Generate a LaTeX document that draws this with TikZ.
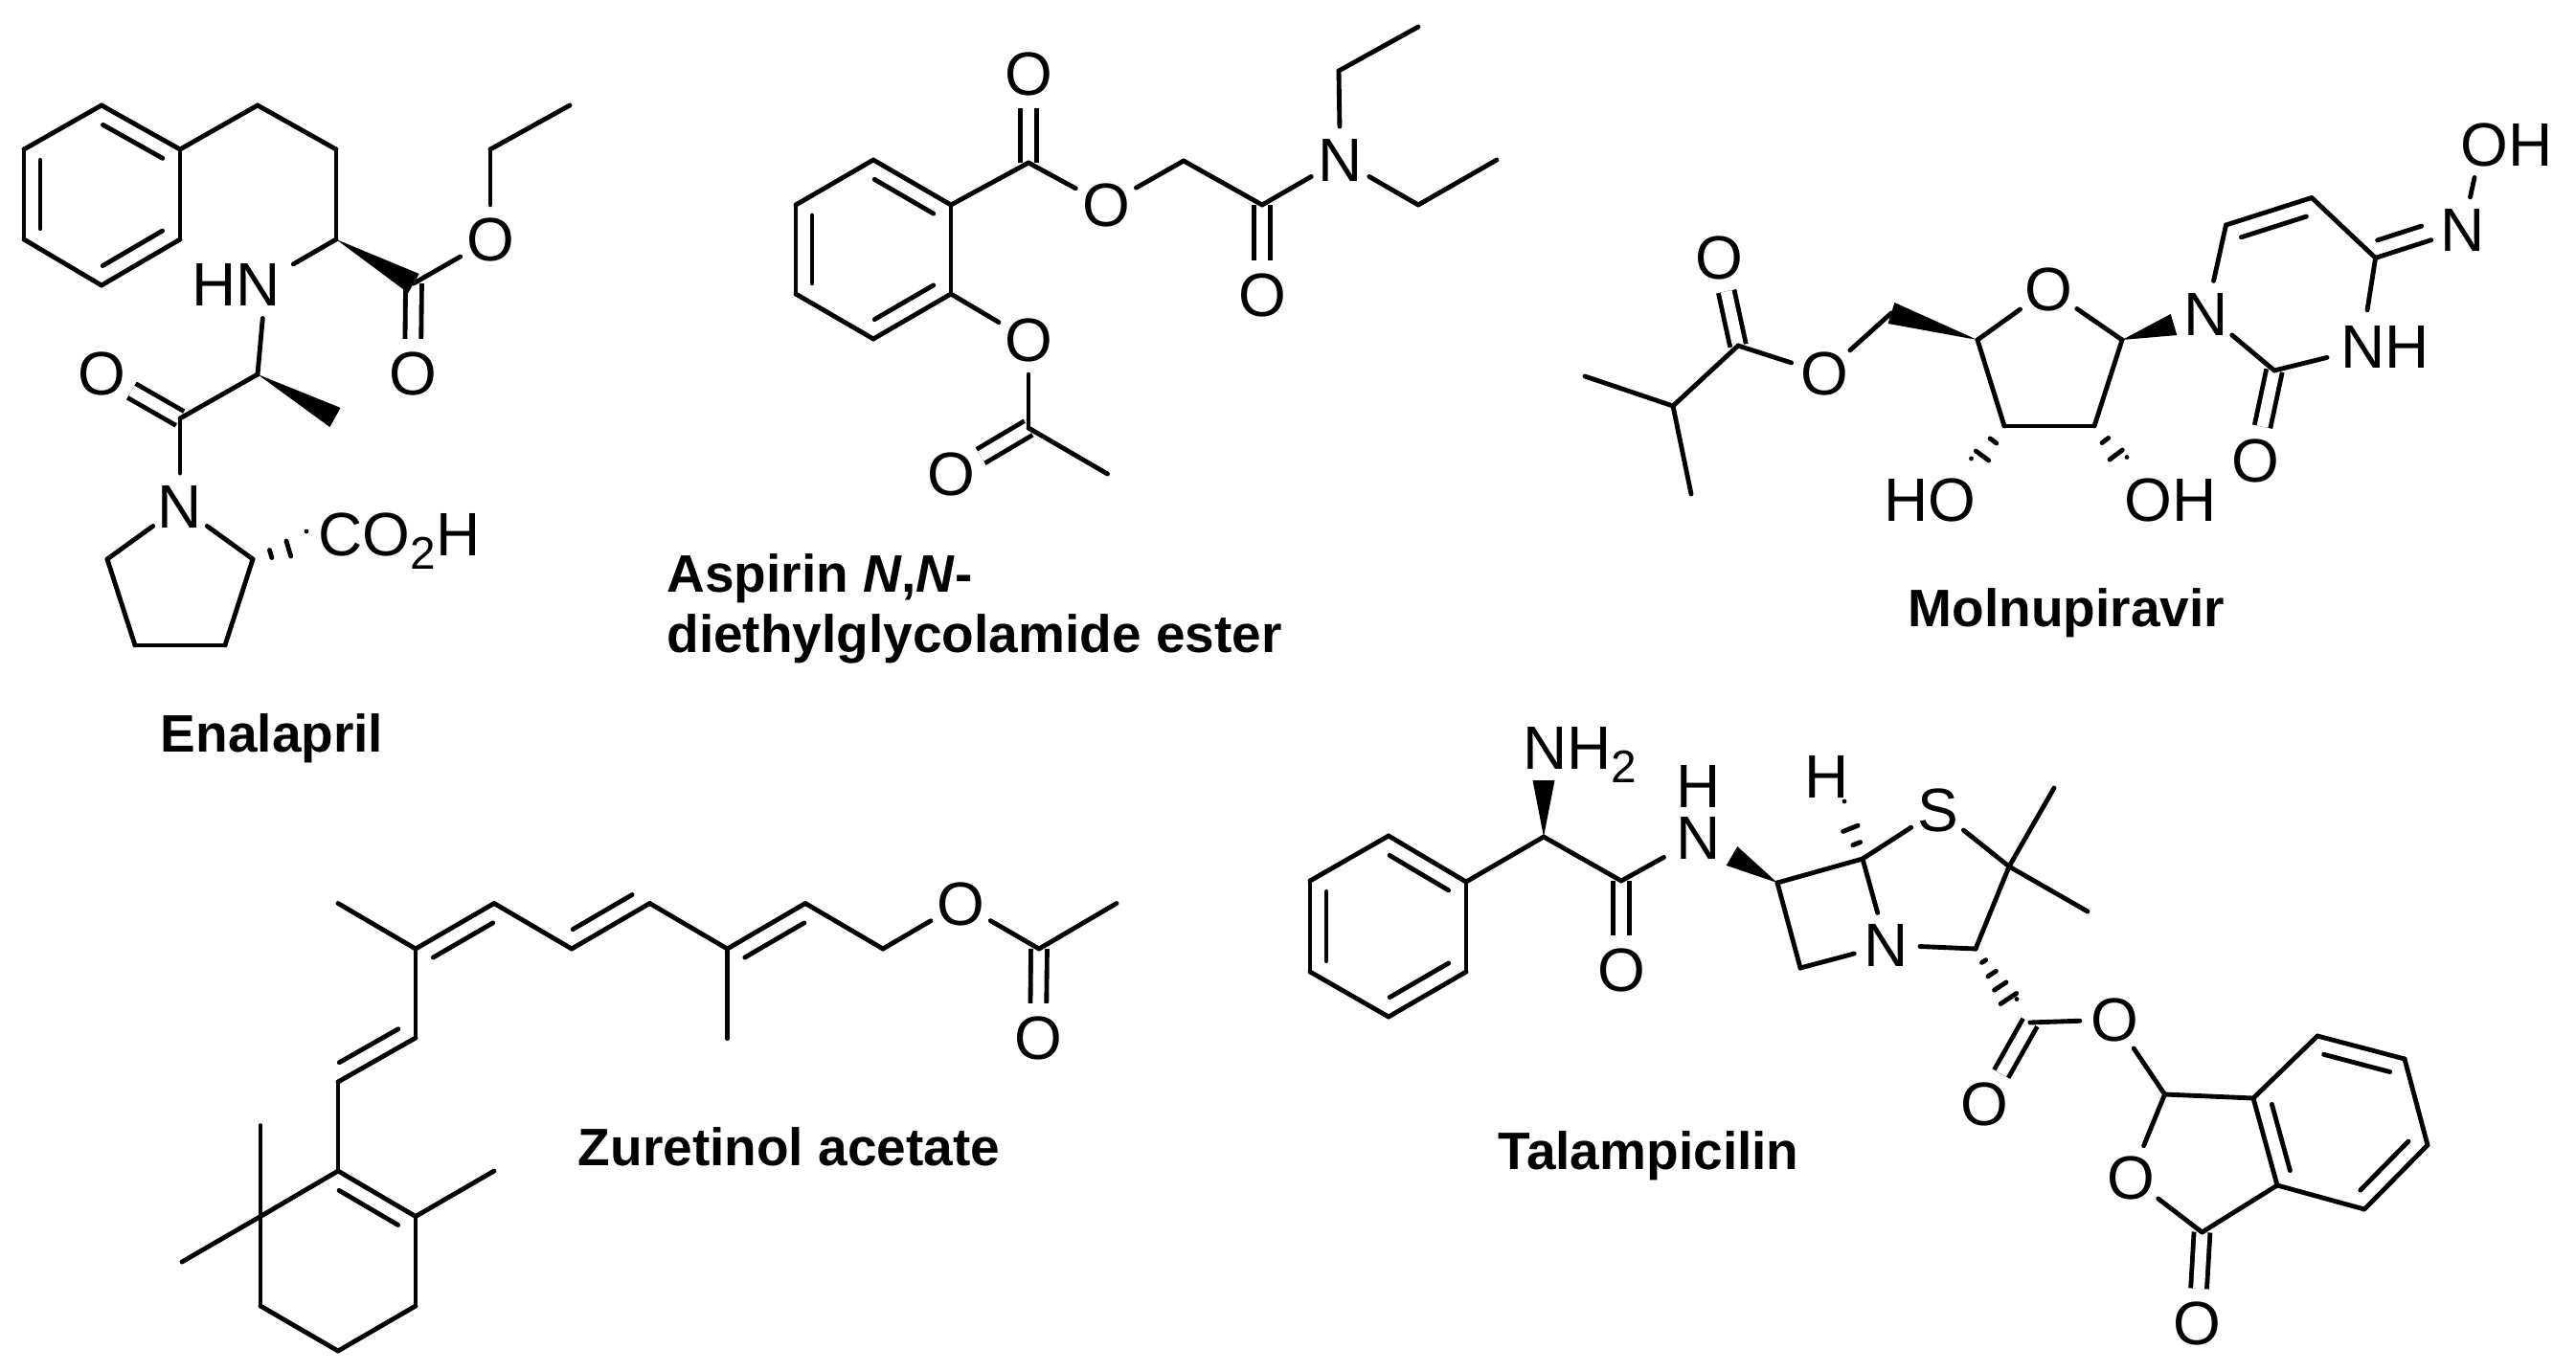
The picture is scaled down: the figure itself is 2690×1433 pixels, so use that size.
\documentclass[tikz,border=0pt]{standalone}
\usepackage{fontspec}
\setmainfont{Liberation Sans}
\usetikzlibrary{calc}

\newcommand{\atomfont}{\fontsize{18.2}{15.3}\selectfont}
\newcommand{\titlefont}{\fontsize{15.65}{17.9}\selectfont\bfseries}
\newcommand{\subnum}[1]{\raisebox{-4.1pt}{\fontsize{13.6}{14}\selectfont #1}}
% second line of a double bond, on the left of a->b
\newcommand{\ringbond}[2]{\draw ($(#1)!.12!(#2)!.17cm!90:(#2)$) -- ($(#2)!.12!(#1)!.17cm!-90:(#1)$);}
\newcommand{\wedgebond}[2]{\fill (#1) -- ($(#2)!.115cm!90:(#1)$) -- ($(#2)!.115cm!-90:(#1)$) -- cycle;}
\newcommand{\hashbond}[3]{\foreach \k in {1,...,#3}{
    \pgfmathsetmacro\hf{\k/#3}\pgfmathsetmacro\hw{\hf*.125}
    \draw ($(#1)!\hf!(#2)!\hw cm!90:(#2)$) -- ($(#1)!\hf!(#2)!\hw cm!-90:(#2)$);}}

\tikzset{
  atom/.style={circle,inner sep=0pt,font=\atomfont,text height=13pt,text depth=0pt},
  group/.style={inner sep=0pt,anchor=base west,font=\atomfont,text height=13pt,text depth=0pt},
  stack/.style={inner sep=0pt,anchor=base,font=\atomfont,align=center},
  title/.style={inner sep=0pt,anchor=base,font=\titlefont},
  dbl/.style={double,double distance=3.4pt,line cap=butt}
}

\begin{document}
\begin{tikzpicture}[x=.01cm,y=-.01cm,line width=1.38pt,line cap=round]
  \path[use as bounding box,fill=white] (0,0) rectangle (2690,1433);

  % Enalapril
  \coordinate (e1) at (106,110); \coordinate (e2) at (25,156); \coordinate (e3) at (25,250);
  \coordinate (e4) at (106,298); \coordinate (e5) at (188,250); \coordinate (e6) at (188,156);
  \coordinate (ea) at (269,110); \coordinate (eb) at (351,156); \coordinate (ec) at (351,250);
  \coordinate (ed) at (432,296); \coordinate (ef) at (512,156); \coordinate (eg) at (595,110);
  \coordinate (eh) at (269,391); \coordinate (ew) at (350,436); \coordinate (ei) at (188,437);
  \coordinate (ej) at (112,584); \coordinate (ek) at (141,674); \coordinate (el) at (235,674);
  \coordinate (em) at (264,584); \coordinate (ex) at (320,567.5);
  \node[atom] (eoa) at (512,250) {O};
  \node[atom] (eob) at (431,390) {O};
  \node[atom] (eoc) at (106,390) {O};
  \node[atom] (en) at (188,529) {N};
  \node[group] (ehn) at (198,319) {HN};
  \node[group] (eco) at (330,580) {CO\subnum{2}H};
  \node[title] (enalapril) at (284,785) {Enalapril};

  \path (ed) edge[dbl] (eob)
        (ei) edge[dbl] (eoc);
  \path (e1) edge (e2) (e2) edge (e3) (e3) edge (e4) (e4) edge (e5) (e5) edge (e6) (e6) edge (e1)
        (e6) edge (ea) (ea) edge (eb) (eb) edge (ec)
        (ec) edge ([shift={(.11cm,-.05cm)}]ehn.north east)
        ([shift={(-.21cm,-.11cm)}]ehn.south east) edge (eh)
        (eh) edge (ei) (ei) edge (en)
        (en) edge (ej) (ej) edge (ek) (ek) edge (el) (el) edge (em) (em) edge (en)
        (ed) edge (eoa) (eoa) edge (ef) (ef) edge (eg);
  \ringbond{e6}{e1} \ringbond{e2}{e3} \ringbond{e4}{e5}
  \wedgebond{ec}{ed} \wedgebond{eh}{ew}
  \hashbond{em}{ex}{3}

  % Aspirin ester
  \coordinate (a1) at (912,167); \coordinate (a2) at (831,214); \coordinate (a3) at (831,307);
  \coordinate (a4) at (912,354); \coordinate (a5) at (993,307); \coordinate (a6) at (993,214);
  \coordinate (ab) at (1074,170); \coordinate (ac) at (1236,168); \coordinate (ad) at (1318,214);
  \coordinate (ae) at (1398,74); \coordinate (af) at (1481,28); \coordinate (ag) at (1481,214);
  \coordinate (ah) at (1563,167); \coordinate (ai) at (1074,447); \coordinate (aj) at (1156.5,495);
  \node[atom] (aoa) at (1074,77) {O};
  \node[atom] (aob) at (1155,214) {O};
  \node[atom] (aoc) at (1318,308) {O};
  \node[atom] (aod) at (1074,355) {O};
  \node[atom] (aoe) at (993,495) {O};
  \node[atom] (an) at (1399.5,167) {N};
  \node[title,anchor=base west,align=left] (aspirin) at (694,681) {Aspirin \textit{N},\textit{N}-\\diethylglycolamide ester};

  \path (ab) edge[dbl] (aoa)
        (ad) edge[dbl] (aoc)
        (ai) edge[dbl] (aoe);
  \path (a1) edge (a2) (a2) edge (a3) (a3) edge (a4) (a4) edge (a5) (a5) edge (a6) (a6) edge (a1)
        (a6) edge (ab) (ab) edge (aob) (aob) edge (ac) (ac) edge (ad) (ad) edge (an)
        (an) edge (ae) (ae) edge (af) (an) edge (ag) (ag) edge (ah)
        (a5) edge (aod) (aod) edge (ai) (ai) edge (aj);
  \ringbond{a6}{a1} \ringbond{a2}{a3} \ringbond{a4}{a5}

  % Molnupiravir
  \coordinate (ma) at (1655,393); \coordinate (mb) at (1747,424); \coordinate (mc) at (1766,516);
  \coordinate (md) at (1815,361); \coordinate (me) at (1975,327); \coordinate (mf) at (2065,355);
  \coordinate (mh) at (2216,355); \coordinate (mi) at (2187,445); \coordinate (mj) at (2093,445);
  \coordinate (mk) at (2324.5,235); \coordinate (ml) at (2414,206.5); \coordinate (mm) at (2480.6,269.4);
  \coordinate (mn) at (2375,387); \coordinate (mw) at (2270,339); \coordinate (mx) at (2541,250);
  \coordinate (my) at (2058.5,491.5); \coordinate (mz) at (2221,490);
  \node[atom] (moa) at (1795,269) {O};
  \node[atom] (mob) at (1905,390) {O};
  \node[atom] (mog) at (2139,302) {O};
  \node[atom] (moc) at (2355,481) {O};
  \node[atom] (mna) at (2304,327.5) {N};
  \node[atom] (mnb) at (2572,240) {N};
  \node[group] (mnh) at (2442,384) {NH};
  \node[group] (moh) at (2567,173) {OH};
  \node[group] (mhoa) at (1965,544) {HO};
  \node[group] (mhob) at (2216,544) {OH};
  \node[title] (molnupiravir) at (2158,654) {Molnupiravir};

  \path (md) edge[dbl] (moa)
        (mn) edge[dbl] (moc);
  \path (ma) edge (mb) (mb) edge (mc) (mb) edge (md) (md) edge (mob) (mob) edge (me)
        (mf) edge (mog) (mog) edge (mh) (mh) edge (mi) (mi) edge (mj) (mj) edge (mf)
        (mna) edge (mk) (mk) edge (ml) (ml) edge (mm) (mm) edge (mnb)
        (mm) edge ([shift={(.30cm,.12cm)}]mnh.north west)
        ([shift={(-.12cm,.13cm)}]mnh.south west) edge (mn)
        (mn) edge (mna)
        (mnb) edge ([shift={(.17cm,-.10cm)}]moh.south west);
  \ringbond{ml}{mk} \ringbond{mm}{mx}
  \wedgebond{mf}{me} \wedgebond{mh}{mw}
  \hashbond{mj}{my}{3} \hashbond{mi}{mz}{3}

  % Zuretinol acetate
  \coordinate (z1) at (353,943.5); \coordinate (z2) at (434,991); \coordinate (z3) at (516,943.5);
  \coordinate (z4) at (597,991); \coordinate (z5) at (678.5,943.5); \coordinate (z6) at (759.5,991);
  \coordinate (z7) at (759.5,1084.6); \coordinate (z8) at (841,943.5); \coordinate (z9) at (922,991);
  \coordinate (z10) at (1085,991); \coordinate (z11) at (1166,943.5); \coordinate (z12) at (434,1084);
  \coordinate (z13) at (353,1130); \coordinate (z14) at (353,1223); \coordinate (z15) at (434,1270.5);
  \coordinate (z16) at (516,1223); \coordinate (z17) at (434,1364); \coordinate (z18) at (353,1411);
  \coordinate (z19) at (272,1364); \coordinate (z20) at (272,1270.5); \coordinate (z21) at (272,1175.6);
  \coordinate (z22) at (190,1318);
  \node[atom] (zoa) at (1003,943.5) {O};
  \node[atom] (zob) at (1084,1084) {O};
  \node[title] (zuretinol) at (824,1217) {Zuretinol acetate};

  \path (z10) edge[dbl] (zob);
  \path (z1) edge (z2) (z2) edge (z3) (z3) edge (z4) (z4) edge (z5) (z5) edge (z6) (z6) edge (z8)
        (z6) edge (z7) (z8) edge (z9) (z9) edge (zoa) (zoa) edge (z10) (z10) edge (z11)
        (z2) edge (z12) (z12) edge (z13) (z13) edge (z14) (z14) edge (z15) (z15) edge (z16)
        (z15) edge (z17) (z17) edge (z18) (z18) edge (z19) (z19) edge (z20) (z20) edge (z14)
        (z20) edge (z21) (z20) edge (z22);
  \ringbond{z3}{z2} \ringbond{z4}{z5} \ringbond{z8}{z6} \ringbond{z13}{z12} \ringbond{z15}{z14}

  % Talampicilin
  \coordinate (t1) at (1450,873); \coordinate (t2) at (1368,920); \coordinate (t3) at (1368,1015);
  \coordinate (t4) at (1450,1062); \coordinate (t5) at (1531,1015); \coordinate (t6) at (1531,921);
  \coordinate (ta) at (1612,874); \coordinate (tb) at (1693,920); \coordinate (tc) at (1856,922);
  \coordinate (td) at (1945,897); \coordinate (te) at (1880,1011); \coordinate (tf) at (2098,905);
  \coordinate (tg) at (2063,991); \coordinate (tm) at (2145,823); \coordinate (tp) at (2180,952);
  \coordinate (ti) at (2120,1068); \coordinate (tj) at (2260.5,1143); \coordinate (tk) at (2299.5,1287);
  \coordinate (tu) at (1612,815); \coordinate (tv) at (1808.5,894); \coordinate (tw) at (1926,849.5);
  \coordinate (tx) at (2106,1056);
  \coordinate (p1) at (2353,1147); \coordinate (p2) at (2420,1082); \coordinate (p3) at (2511,1106);
  \coordinate (p4) at (2535,1196); \coordinate (p5) at (2469,1263); \coordinate (p6) at (2378,1238);
  \node[group] (tnh) at (1588,803) {NH\subnum{2}};
  \node[atom] (toa) at (1693,1013) {O};
  \node[stack] (tna) at (1774,897) {H\\N};
  \node[atom] (thb) at (1908,811) {H};
  \node[atom] (tnb) at (1970,987) {N};
  \node[atom] (ts) at (2024,846) {S};
  \node[atom] (tob) at (2072,1153) {O};
  \node[atom] (toc) at (2208,1065) {O};
  \node[atom] (tod) at (2225,1230) {O};
  \node[atom] (toe) at (2294,1382) {O};
  \node[title] (talampicilin) at (1721.5,1221) {Talampicilin};

  \path (tb) edge[dbl] (toa)
        (ti) edge[dbl] (tob)
        (tk) edge[dbl] (toe);
  \path (t1) edge (t2) (t2) edge (t3) (t3) edge (t4) (t4) edge (t5) (t5) edge (t6) (t6) edge (t1)
        (t6) edge (ta) (ta) edge (tb)
        (tb) edge ([shift={(-.11cm,.04cm)}]tna.south west)
        (tc) edge (td) (td) edge (tnb) (tnb) edge (te) (te) edge (tc)
        (td) edge (ts) (ts) edge (tf) (tf) edge (tg) (tg) edge (tnb)
        (tf) edge (tm) (tf) edge (tp)
        (ti) edge (toc) (toc) edge (tj) (tj) edge (p1) (tj) edge (tod) (tod) edge (tk) (tk) edge (p6)
        (p1) edge (p2) (p2) edge (p3) (p3) edge (p4) (p4) edge (p5) (p5) edge (p6) (p6) edge (p1);
  \ringbond{t6}{t1} \ringbond{t2}{t3} \ringbond{t4}{t5}
  \ringbond{p3}{p2} \ringbond{p1}{p6} \ringbond{p5}{p4}
  \wedgebond{ta}{tu} \wedgebond{tc}{tv}
  \hashbond{td}{tw}{3} \hashbond{tg}{tx}{5}
\end{tikzpicture}
\end{document}
